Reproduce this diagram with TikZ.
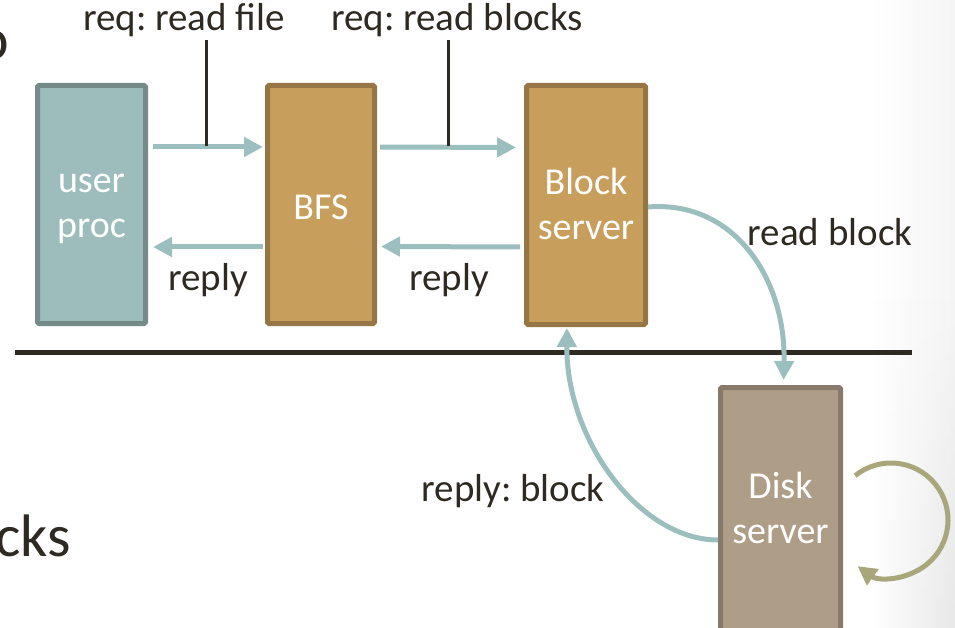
\documentclass[tikz,border=0pt]{standalone}
\usepackage{fontspec}
\setmainfont{Carlito}
\usetikzlibrary{arrows.meta,calc,fadings}
\frenchspacing

\definecolor{ink}{HTML}{2E2A22}
\definecolor{tealfill}{HTML}{9DBDBC}
\definecolor{tealline}{HTML}{748B8A}
\definecolor{tanfill}{HTML}{C89E5C}
\definecolor{tanline}{HTML}{977645}
\definecolor{diskfill}{HTML}{AE9E87}
\definecolor{diskline}{HTML}{877A6A}
\definecolor{flowcol}{HTML}{9BBFBE}
\definecolor{olive}{HTML}{AAA67C}

\tikzset{
  procbox/.style={draw, line width=5pt, rounded corners=1.5pt, inner sep=0pt},
  userbox/.style={procbox, fill=tealfill, draw=tealline},
  srvbox/.style={procbox, fill=tanfill, draw=tanline},
  diskbox/.style={procbox, fill=diskfill, draw=diskline},
  boxtext/.style={text=white, align=center, inner sep=0pt, font=\fontsize{38}{45}\selectfont},
  flow/.style={draw=flowcol, line width=5pt, -{Triangle[length=19pt,width=19pt]}},
  selfloop/.style={draw=olive, line width=5pt, -{Triangle[length=19pt,width=19pt]}},
  lbl/.style={text=ink, font=\fontsize{39}{45}\selectfont, inner sep=1pt},
  tick/.style={draw=ink, line width=3pt},
  bigtxt/.style={text=ink, font=\fontsize{60}{70}\selectfont, inner sep=0pt}
}

\begin{document}
\begin{tikzpicture}[x=1pt, y=-1pt]
  \useasboundingbox (0,0) rectangle (955,628);
  \clip (0,0) rectangle (955,628);

  % faint grey fade along the right edge, stronger towards the bottom
  \shade[left color=white, right color=black!4] (870,0) rectangle (955,628);
  \shade[left color=white, right color=black!9, path fading=north] (870,300) rectangle (955,628);

  % fragments of the surrounding slide text
  \node[bigtxt, anchor=east] (frag1) at (9,45) {o};
  \node[bigtxt, anchor=east] (frag2) at (71,536) {cks};

  % process boxes
  \node[userbox, minimum width=108pt, minimum height=238pt] (user) at (91.5,204.5) {};
  \node[srvbox,  minimum width=107pt, minimum height=238pt] (bfs)  at (321,204.5) {};
  \node[srvbox,  minimum width=119pt, minimum height=239pt] (blk)  at (586,205) {};
  \node[diskbox, minimum width=120pt, minimum height=255pt] (disk) at (780.5,515) {};

  \node[boxtext] (usertxt) at ([yshift=-4pt]user.center) {user\\proc};
  \node[boxtext] (bfstxt)  at ([yshift=-3pt]bfs.center)  {BFS};
  \node[boxtext] (blktxt)  at ([yshift=1pt]blk.center)   {Block\\server};
  \node[boxtext] (disktxt) at ([yshift=7pt]disk.center)  {Disk\\server};

  % kernel boundary
  \coordinate (bl) at (15,352);
  \coordinate (br) at (912,352);
  \draw[draw=ink, line width=5pt] (bl) -- (br);

  % requests and replies between the processes
  \draw[flow, shorten <=5pt, shorten >=2pt] ([yshift=57.5pt]user.east) -- ([yshift=57.5pt]bfs.west);
  \draw[flow, shorten <=2pt, shorten >=5pt] ([yshift=-42.5pt]bfs.west) -- ([yshift=-42.5pt]user.east);
  \draw[flow, shorten <=3pt, shorten >=8pt] ([yshift=57.5pt]bfs.east) -- ([yshift=57.5pt]blk.west);
  \draw[flow, shorten <=4pt, shorten >=4pt] ([yshift=-42pt]blk.west) -- ([yshift=-42pt]bfs.east);

  % message labels
  \node[lbl] (lrf) at (184,20) {req: read file};
  \node[lbl] (lrb) at (457,20) {req: read blocks};
  \coordinate (trf) at (206,146);
  \coordinate (trb) at (448,146);
  \draw[tick] ([yshift=-2pt]lrf.south -| trf) -- (trf);
  \draw[tick] ([yshift=-2pt]lrb.south -| trb) -- (trb);
  \node[lbl] (rp1) at (208,280) {reply};
  \node[lbl] (rp2) at (449,280) {reply};

  % block server <-> disk server
  \draw[flow, shorten >=5pt] ([yshift=-2pt]blk.east) .. controls (735,200) and (786,280) .. ([xshift=3pt]disk.north);
  \draw[flow, shorten >=1pt] ([yshift=-25pt]disk.west) .. controls (640,540) and (566,440) .. ([xshift=-19pt]blk.south);
  \node[lbl] (lrd) at (830,232) {read block};
  \node[lbl] (lrp) at (513,491) {reply: block};

  % disk server working on its own
  \coordinate (lc) at (891,520);
  \draw[selfloop] ([shift={(129:57pt)}]lc) arc[start angle=129, end angle=-126, radius=57pt];
\end{tikzpicture}
\end{document}
